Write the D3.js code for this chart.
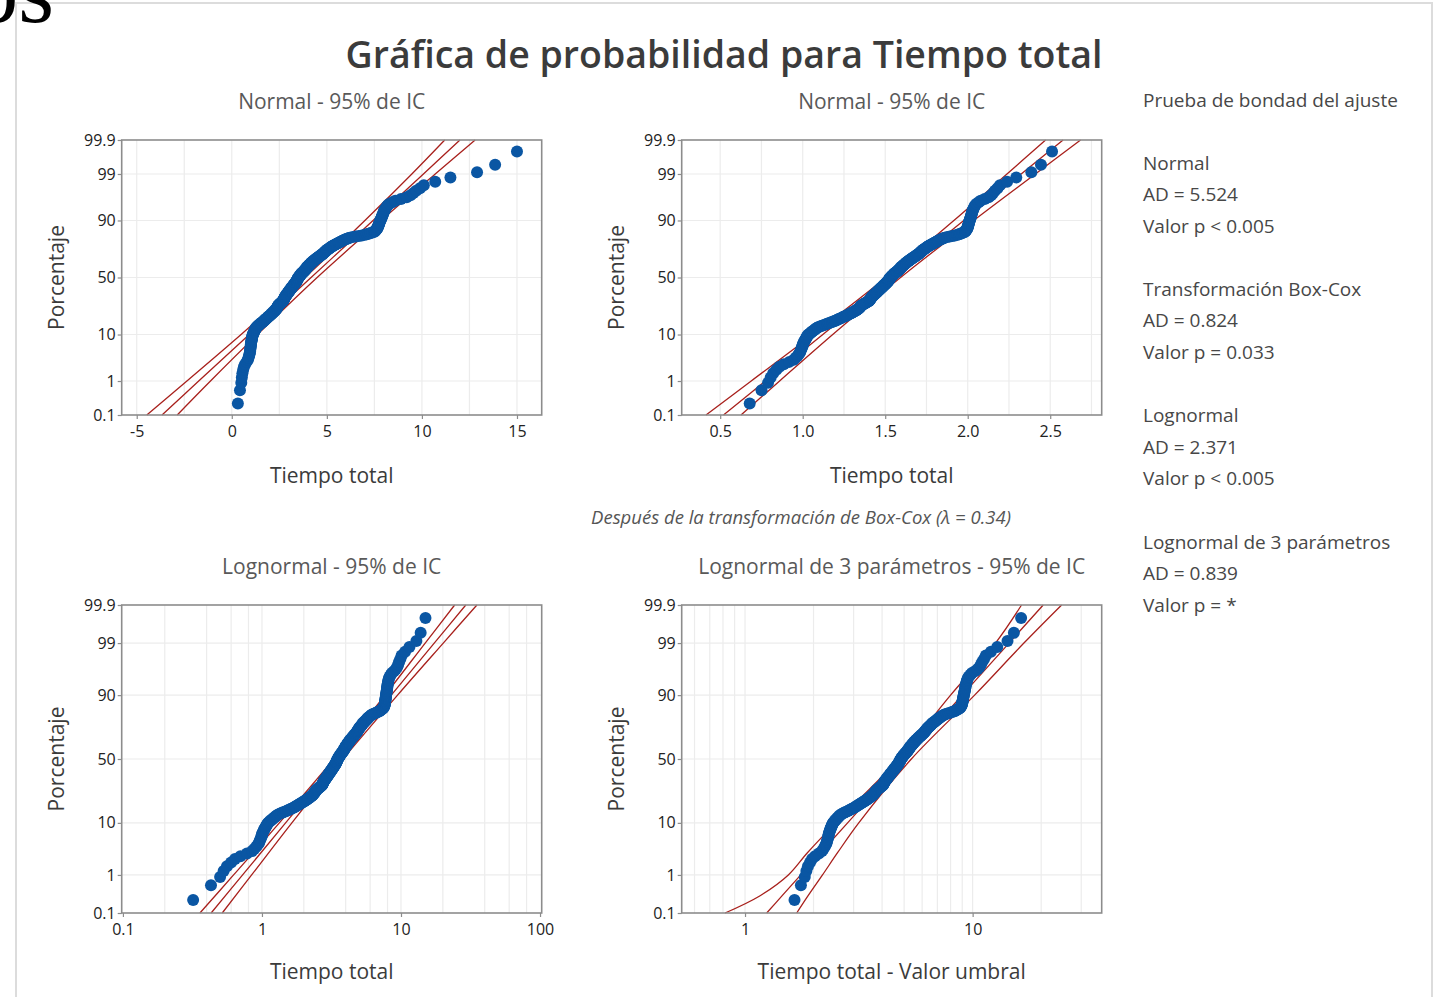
<!DOCTYPE html>
<html>
<head>
<meta charset="utf-8">
<script src="https://cdn.jsdelivr.net/npm/d3@7"></script>
<style>
  body { margin: 0; background: #fff; }
  svg { display: block; font-family: "Open Sans", sans-serif; }
</style>
</head>
<body>
<svg id="chart"></svg>
<script>
// Tiempo total, sorted
const tiempo = [
  0.32, 0.43, 0.50, 0.53, 0.56, 0.60, 0.64, 0.70, 0.78, 0.85,
  0.88, 0.91, 0.93, 0.95, 0.96, 0.97, 0.98, 0.99, 1.00, 1.00,
  1.01, 1.02, 1.03, 1.04, 1.05, 1.06, 1.07, 1.08, 1.09, 1.10,
  1.12, 1.14, 1.16, 1.18, 1.20, 1.22, 1.24, 1.26, 1.28, 1.30,
  1.34, 1.38, 1.42, 1.46, 1.50, 1.54, 1.58, 1.62, 1.66, 1.70,
  1.73, 1.76, 1.79, 1.83, 1.86, 1.89, 1.92, 1.95, 1.99, 2.02,
  2.05, 2.08, 2.11, 2.14, 2.17, 2.19, 2.22, 2.25, 2.27, 2.30,
  2.32, 2.34, 2.35, 2.37, 2.39, 2.40, 2.41, 2.42, 2.44, 2.45,
  2.47, 2.50, 2.52, 2.55, 2.57, 2.60, 2.62, 2.65, 2.67, 2.70,
  2.71, 2.72, 2.73, 2.74, 2.75, 2.76, 2.77, 2.78, 2.79, 2.80,
  2.82, 2.83, 2.85, 2.86, 2.88, 2.89, 2.91, 2.92, 2.94, 2.95,
  2.97, 2.98, 3.00, 3.01, 3.03, 3.04, 3.06, 3.07, 3.09, 3.10,
  3.12, 3.13, 3.15, 3.16, 3.18, 3.19, 3.21, 3.22, 3.24, 3.25,
  3.27, 3.28, 3.30, 3.31, 3.33, 3.34, 3.36, 3.37, 3.39, 3.40,
  3.41, 3.42, 3.43, 3.44, 3.45, 3.46, 3.47, 3.48, 3.49, 3.50,
  3.52, 3.53, 3.55, 3.56, 3.58, 3.59, 3.61, 3.62, 3.64, 3.65,
  3.67, 3.69, 3.71, 3.73, 3.75, 3.77, 3.79, 3.81, 3.83, 3.85,
  3.86, 3.88, 3.89, 3.91, 3.92, 3.94, 3.95, 3.97, 3.98, 4.00,
  4.02, 4.04, 4.06, 4.08, 4.10, 4.12, 4.14, 4.16, 4.18, 4.20,
  4.22, 4.25, 4.27, 4.30, 4.32, 4.35, 4.37, 4.40, 4.42, 4.45,
  4.48, 4.51, 4.54, 4.57, 4.60, 4.63, 4.66, 4.69, 4.72, 4.75,
  4.78, 4.80, 4.83, 4.85, 4.88, 4.90, 4.93, 4.95, 4.98, 5.00,
  5.03, 5.07, 5.10, 5.14, 5.17, 5.21, 5.24, 5.28, 5.31, 5.35,
  5.40, 5.45, 5.50, 5.55, 5.60, 5.65, 5.70, 5.75, 5.80, 5.85,
  5.92, 5.99, 6.06, 6.13, 6.20, 6.36, 6.52, 6.68, 6.84, 7.00,
  7.10, 7.20, 7.30, 7.40, 7.50, 7.53, 7.56, 7.59, 7.62, 7.65,
  7.66, 7.68, 7.69, 7.71, 7.72, 7.74, 7.75, 7.77, 7.78, 7.80,
  7.82, 7.84, 7.86, 7.88, 7.90, 7.92, 7.94, 7.96, 7.98, 8.00,
  8.03, 8.07, 8.10, 8.15, 8.20, 8.30, 8.45, 8.60, 8.90, 9.20,
  9.40, 9.55, 9.70, 9.90, 10.10, 10.70, 11.50, 12.90, 13.85, 15.00
];
const lambda = 0.34;   // Box-Cox
const umbral = -1.33;  // threshold of the 3-parameter lognormal

// percent axis
const pctTicks = [0.1, 1, 10, 50, 90, 99, 99.9];
const pctGrid = [1, 10, 50, 90, 99];

// x ticks / grid
const normalTicks = [-5, 0, 5, 10, 15];
const normalGrid = [-5, -2.5, 0, 2.5, 5, 7.5, 10, 12.5, 15];
const boxcoxTicks = [0.5, 1.0, 1.5, 2.0, 2.5];
const boxcoxGrid = [0.5, 0.75, 1, 1.25, 1.5, 1.75, 2, 2.25, 2.5, 2.75];
const lognTicks = [0.1, 1, 10, 100];
const lognGrid = [0.2, 0.4, 0.6, 0.8, 1, 2, 4, 6, 8, 10, 20, 40, 60, 80];
const logn3Ticks = [1, 10];
const logn3Grid = [0.6, 0.7, 0.8, 0.9, 1, 2, 3, 4, 5, 6, 7, 8, 9, 10, 20, 30];

// fitted line and 95% CI, read at these percents
const bandPct = [0.1, 1, 10, 50, 90, 99, 99.9];
const normalLow = [-4.47, -2.36, 0.49, 3.85, 7.00, 9.47, 11.20];
const normalFit = [-3.67, -1.74, 0.92, 4.17, 7.43, 10.08, 12.00];
const normalUp  = [-2.87, -1.12, 1.35, 4.49, 7.86, 10.70, 12.80];
const boxcoxLow = [0.414, 0.688, 1.062, 1.505, 1.916, 2.238, 2.472];
const boxcoxFit = [0.520, 0.774, 1.122, 1.549, 1.976, 2.324, 2.578];
const boxcoxUp  = [0.626, 0.860, 1.182, 1.593, 2.036, 2.410, 2.684];
const lognLow = [0.358, 0.625, 1.334, 3.289, 7.674, 14.93, 24.32];
const lognFit = [0.431, 0.726, 1.479, 3.548, 8.511, 17.34, 29.24];
const lognUp  = [0.518, 0.843, 1.641, 3.828, 9.441, 20.14, 35.16];
const bandPct3 = [0.1, 0.3, 1, 3, 10, 50, 90, 99, 99.9];
const logn3Low = [0.817, 1.16, 1.55, 1.88, 2.50, 4.73, 8.0, 12.6, 16.4];
const logn3Fit = [1.245, 1.453, 1.758, 2.151, 2.823, 5.04, 9.0, 14.45, 20.42];
const logn3Up  = [1.687, 1.89, 2.19, 2.55, 3.16, 5.38, 10.2, 16.8, 24.6];

// goodness of fit table
const pruebas = [
  ["Normal", "AD = 5.524", "Valor p < 0.005"],
  ["Transformación Box-Cox", "AD = 0.824", "Valor p = 0.033"],
  ["Lognormal", "AD = 2.371", "Valor p < 0.005"],
  ["Lognormal de 3 parámetros", "AD = 0.839", "Valor p = *"]
];

// inverse normal cdf (Acklam)
function qnorm(p) {
  const a = [-39.69683028665376, 220.9460984245205, -275.9285104469687, 138.3577518672690, -30.66479806614716, 2.506628277459239];
  const b = [-54.47609879822406, 161.5858368580409, -155.6989798598866, 66.80131188771972, -13.28068155288572];
  const c = [-0.007784894002430293, -0.3223964580411365, -2.400758277161838, -2.549732539343734, 4.374664141464968, 2.938163982698783];
  const d = [0.007784695709041462, 0.3224671290700398, 2.445134137142996, 3.754408661907416];
  const pl = 0.02425;
  let q, r;
  if (p < pl) {
    q = Math.sqrt(-2 * Math.log(p));
    return (((((c[0]*q+c[1])*q+c[2])*q+c[3])*q+c[4])*q+c[5]) / ((((d[0]*q+d[1])*q+d[2])*q+d[3])*q+1);
  }
  if (p > 1 - pl) {
    q = Math.sqrt(-2 * Math.log(1 - p));
    return -(((((c[0]*q+c[1])*q+c[2])*q+c[3])*q+c[4])*q+c[5]) / ((((d[0]*q+d[1])*q+d[2])*q+d[3])*q+1);
  }
  q = p - 0.5; r = q * q;
  return (((((a[0]*r+a[1])*r+a[2])*r+a[3])*r+a[4])*r+a[5])*q / (((((b[0]*r+b[1])*r+b[2])*r+b[3])*r+b[4])*r+1);
}

const W = 1440, H = 997;
const n = tiempo.length;
const zMin = qnorm(0.001), zMax = qnorm(0.999);

const svg = d3.select("#chart").attr("width", W).attr("height", H);

// page border + clipped heading from the document behind
svg.append("rect")
  .attr("x", 16).attr("y", 3).attr("width", 1416).attr("height", 1010)
  .attr("fill", "#fff").attr("stroke", "#dcdcdc").attr("stroke-width", 2);
svg.append("text")
  .attr("x", 54).attr("y", 22)
  .attr("text-anchor", "end")
  .attr("font-family", "Liberation Serif")
  .attr("font-size", 92)
  .attr("fill", "#000")
  .text("os");

svg.append("text")
  .attr("x", 724).attr("y", 68)
  .attr("text-anchor", "middle")
  .attr("font-size", 37.5).attr("font-weight", 600)
  .attr("fill", "#3b3b3b")
  .text("Gráfica de probabilidad para Tiempo total");

const panels = [
  { sub: "Normal - 95% de IC", xlab: "Tiempo total", box: [121.7, 541.7, 140, 415],
    log: false, domain: [-5.79, 16.30], ticks: normalTicks, grid: normalGrid, fmt: d => String(d),
    val: t => t, pct: bandPct, low: normalLow, fit: normalFit, up: normalUp },
  { sub: "Normal - 95% de IC", xlab: "Tiempo total", box: [681.7, 1101.7, 140, 415],
    log: false, domain: [0.2667, 2.812], ticks: boxcoxTicks, grid: boxcoxGrid, fmt: d3.format(".1f"),
    val: t => Math.pow(t, lambda), pct: bandPct, low: boxcoxLow, fit: boxcoxFit, up: boxcoxUp },
  { sub: "Lognormal - 95% de IC", xlab: "Tiempo total", box: [121.7, 541.7, 605, 913],
    log: true, domain: [0.098, 102.8], ticks: lognTicks, grid: lognGrid, fmt: d => String(d),
    val: t => t, pct: bandPct, low: lognLow, fit: lognFit, up: lognUp },
  { sub: "Lognormal de 3 parámetros - 95% de IC", xlab: "Tiempo total - Valor umbral", box: [681.7, 1101.7, 605, 913],
    log: true, domain: [0.527, 36.9], ticks: logn3Ticks, grid: logn3Grid, fmt: d => String(d),
    val: t => t - umbral, pct: bandPct3, low: logn3Low, fit: logn3Fit, up: logn3Up }
];

panels.forEach(P => {
  const [x0, x1, y0, y1] = P.box;
  const x = (P.log ? d3.scaleLog() : d3.scaleLinear()).domain(P.domain).range([x0, x1]);
  const y = d3.scaleLinear().domain([zMin, zMax]).range([y1, y0]);
  const g = svg.append("g");
  const cx = (x0 + x1) / 2;

  // grid
  g.append("g").selectAll("line").data(P.grid).join("line")
    .attr("x1", d => x(d)).attr("x2", d => x(d))
    .attr("y1", y0).attr("y2", y1)
    .attr("stroke", "#ececec").attr("stroke-width", 1.2);
  g.append("g").selectAll("line").data(pctGrid).join("line")
    .attr("x1", x0).attr("x2", x1)
    .attr("y1", d => y(qnorm(d / 100))).attr("y2", d => y(qnorm(d / 100)))
    .attr("stroke", "#ececec").attr("stroke-width", 1.2);

  // fit line and confidence band
  const line = d3.line()
    .x(d => x(d[1]))
    .y(d => y(qnorm(d[0] / 100)))
    .curve(d3.curveCatmullRom);
  [P.low, P.fit, P.up].forEach(arr => {
    g.append("path")
      .datum(P.pct.map((p, i) => [p, arr[i]]))
      .attr("d", line)
      .attr("fill", "none")
      .attr("stroke", "#a8201c")
      .attr("stroke-width", 1.3);
  });

  // points, Benard median ranks
  g.append("g").selectAll("circle").data(tiempo).join("circle")
    .attr("cx", t => x(P.val(t)))
    .attr("cy", (t, i) => y(qnorm((i + 1 - 0.3) / (n + 0.4))))
    .attr("r", 6)
    .attr("fill", "#0a56a3");

  // frame
  g.append("rect")
    .attr("x", x0).attr("y", y0).attr("width", x1 - x0).attr("height", y1 - y0)
    .attr("fill", "none").attr("stroke", "#8c8c8c").attr("stroke-width", 1.6);

  // axes
  const ya = g.append("g")
    .attr("transform", `translate(${x0},0)`)
    .call(d3.axisLeft(y)
      .tickValues(pctTicks.map(p => qnorm(p / 100)))
      .tickFormat((d, i) => String(pctTicks[i]))
      .tickSize(4).tickPadding(2));
  const xa = g.append("g")
    .attr("transform", `translate(0,${y1})`)
    .call(d3.axisBottom(x)
      .tickValues(P.ticks)
      .tickFormat(P.fmt)
      .tickSize(4).tickPadding(7));
  [ya, xa].forEach(a => {
    a.select(".domain").remove();
    a.selectAll("line").attr("stroke", "#8c8c8c").attr("stroke-width", 1.2);
    a.selectAll("text")
      .attr("font-family", "Open Sans").attr("font-size", 16)
      .attr("fill", "#222");
  });

  // titles
  g.append("text")
    .attr("x", cx).attr("y", y0 - 38)
    .attr("text-anchor", "middle").attr("dy", "0.35em")
    .attr("font-size", 21).attr("fill", "#595959")
    .text(P.sub);
  g.append("text")
    .attr("x", cx).attr("y", y1 + (y1 > 500 ? 59 : 61))
    .attr("text-anchor", "middle").attr("dy", "0.35em")
    .attr("font-size", 21).attr("fill", "#3b3b3b")
    .text(P.xlab);
  g.append("text")
    .attr("transform", `translate(${x0 - 65},${(y0 + y1) / 2}) rotate(-90)`)
    .attr("text-anchor", "middle").attr("dy", "0.35em")
    .attr("font-size", 21).attr("fill", "#3b3b3b")
    .text("Porcentaje");
});

svg.append("text")
  .attr("x", 801).attr("y", 518)
  .attr("text-anchor", "middle").attr("dy", "0.35em")
  .attr("font-size", 18.5).attr("font-style", "italic")
  .attr("fill", "#555")
  .text("Después de la transformación de Box-Cox (λ = 0.34)");

// goodness-of-fit legend
const leg = svg.append("g")
  .attr("font-size", 19).attr("fill", "#474747");
leg.append("text")
  .attr("x", 1143).attr("y", 100).attr("dy", "0.35em")
  .text("Prueba de bondad del ajuste");
leg.selectAll("g").data(pruebas).join("g")
  .attr("transform", (d, i) => `translate(1143,${163 + i * 126.3})`)
  .selectAll("text").data(d => d).join("text")
  .attr("y", (d, j) => j * 31.5).attr("dy", "0.35em")
  .text(d => d);
</script>
</body>
</html>
